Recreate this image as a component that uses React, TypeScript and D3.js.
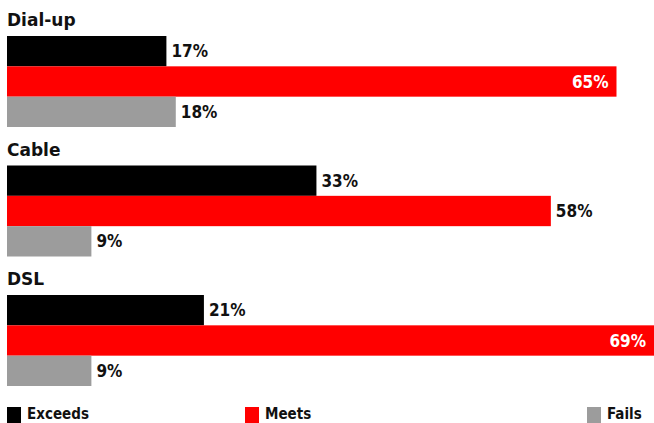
import React, { useEffect, useRef } from 'react';
import * as d3 from 'd3';

const categories: string[] = ['Dial-up', 'Cable', 'DSL'];
const seriesNames: string[] = ['Exceeds', 'Meets', 'Fails'];
const exceeds: number[] = [17, 33, 21];
const meets: number[] = [65, 58, 69];
const fails: number[] = [18, 9, 9];
const colors: string[] = ['#000000', '#ff0000', '#9c9c9c'];

const width = 654;
const height = 423;
const font = "'DejaVu Sans', sans-serif";
const condensed = "'DejaVu Sans Condensed', 'DejaVu Sans', sans-serif";

const App: React.FC = () => {
  const ref = useRef<SVGSVGElement>(null);

  useEffect(() => {
    const svg = d3.select(ref.current);
    svg.selectAll('*').remove();

    const series = [exceeds, meets, fails];
    const rows = categories.map((c, i) => ({
      category: c,
      values: series.map((s, j) => ({ name: seriesNames[j], value: s[i] })),
    }));

    const x = d3.scaleLinear().domain([0, 69]).range([7, width]);
    const y = d3.scaleBand().domain(categories).range([36, 36 + 129.5 * 3]).paddingInner(0);
    const inner = d3.scaleBand().domain(seriesNames).range([0, 91]).padding(0);

    const color = d3.scaleOrdinal<string, string>().domain(seriesNames).range(colors);

    const group = svg
      .selectAll('g.group')
      .data(rows)
      .enter()
      .append('g')
      .attr('class', 'group')
      .attr('transform', d => `translate(0, ${y(d.category)})`);

    group
      .append('text')
      .attr('x', 7)
      .attr('y', -10)
      .attr('font-family', font)
      .attr('font-weight', 'bold')
      .attr('font-size', 17)
      .attr('fill', '#111')
      .text(d => d.category);

    const bar = group
      .selectAll('g.bar')
      .data(d => d.values)
      .enter()
      .append('g')
      .attr('class', 'bar');

    bar
      .append('rect')
      .attr('x', x(0))
      .attr('y', d => inner(d.name) as number)
      .attr('width', d => x(d.value) - x(0))
      .attr('height', inner.bandwidth())
      .attr('fill', d => color(d.name));

    bar
      .append('text')
      .attr('x', d => (d.value > 60 ? x(d.value) - 8 : x(d.value) + 5))
      .attr('y', d => (inner(d.name) as number) + inner.bandwidth() / 2 + 6)
      .attr('text-anchor', d => (d.value > 60 ? 'end' : 'start'))
      .attr('font-family', condensed)
      .attr('font-weight', 'bold')
      .attr('font-size', 17)
      .attr('fill', d => (d.value > 60 ? '#fff' : '#111'))
      .text(d => `${d.value}%`);

    // legend
    const legendX = [7, 245, 587];
    const legend = svg
      .selectAll('g.legend')
      .data(seriesNames)
      .enter()
      .append('g')
      .attr('class', 'legend')
      .attr('transform', (_d, i) => `translate(${legendX[i]}, 407)`);

    legend
      .append('rect')
      .attr('width', 14)
      .attr('height', 16)
      .attr('fill', d => color(d));

    legend
      .append('text')
      .attr('x', 20)
      .attr('y', 12)
      .attr('font-family', condensed)
      .attr('font-weight', 'bold')
      .attr('font-size', 15)
      .attr('fill', '#111')
      .text(d => d);
  }, []);

  return (
    <svg
      ref={ref}
      width={width}
      height={height}
      style={{ position: 'absolute', left: 0, top: 0, background: '#fff' }}
    />
  );
};

export default App;
